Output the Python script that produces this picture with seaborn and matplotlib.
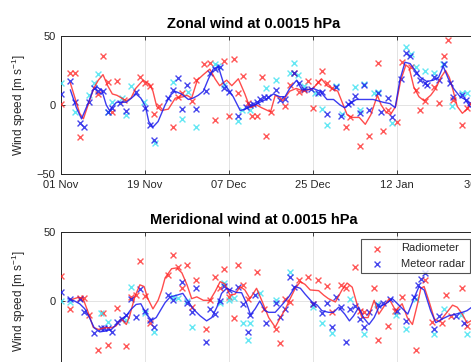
import numpy as np
import pandas as pd
import matplotlib
matplotlib.use('Agg')
import matplotlib.pyplot as plt
import matplotlib.dates as mdates
import seaborn as sns

START = pd.Timestamp('2015-11-01')

# ---- Zonal wind (top panel) ----
zonal_rad_day = [0, 2, 3, 4, 8, 9, 10, 11, 12, 13.5, 17, 18, 19, 20, 21, 24, 25, 26, 28, 29,
                 30.6, 32, 33, 35, 36, 37, 38, 39, 40, 41, 42, 43, 44, 45, 48, 49, 50, 51, 52, 53,
                 54, 55, 56, 57, 58, 61, 62, 64, 66, 68, 69, 70, 72, 73, 75, 76, 77, 78, 80, 81,
                 82, 83, 84, 86, 87]
zonal_rad = [0.5, 23.4, 23, -23, 8, 35.5, 17, -4.8, 17.6, 3.6, 20.5, 16, 13.8, -6.5, -1, -15.7, 6, 8.5, 3, 18,
             30, 30.7, -11, 32, -8, 33, 8.5, 21, 1.7, -8, -8, 20, -22.5, -4.8, -0.7, 14.5, 23.4, 9.6, 10.9, 17.6,
             -2, 17, 24.4, 15.7, 12, -15.7, -9, -30, -22.5, 30.7, -18.6, -3.6, -12, 31, 27.8, 11, -3.6, 3, 13.3, 1.7,
             35.5, 47, 3.6, -14.5, -2.4]

zonal_met_day = [0, 2, 3, 4, 5, 6, 7, 8, 9, 10, 11, 12.6, 14, 16, 18, 19, 20, 23, 24, 25,
                 26, 27, 29, 31, 32, 33, 34, 35, 36, 38, 39.6, 40.4, 41.2, 42, 42.6, 43.4, 44.4, 46, 47, 48,
                 50, 51, 52, 53.6, 55, 56, 57, 59, 60, 61.5, 62.2, 63, 64, 65, 66, 68, 68.6, 70, 71, 72.8,
                 74, 74.8, 76, 77, 78, 78.5, 80, 81, 82, 83.3, 84, 86, 86.7, 87.6]
zonal_met = [8, 17.6, 2.4, -13.3, -15.7, 2.4, 12, 10.5, 10.5, -4.8, -2.4, 1.7, -4, 9.6, -2.4, -14.5, -25, 4.8, 11, 19.3,
             -3, 14.5, -3, 10, 23, 25.8, 27.3, 12, 9.6, -8, -1.7, 0, 1, 2, 4, 6, 6, 11, 3.6, 4,
             23, 15.7, 11.4, 11.4, 8.5, 9.6, -6.5, 12.8, -8, 0.7, 2.4, 6.5, -6, 14.5, -3.6, 9, -4.8, 4.8, -9, 19,
             37.4, 35.5, 23, 18, 16, 14.5, 20.5, 18, 29.7, 15.7, 6, 7, 3.6, 1.2]

zonal_met2_day = [0, 3, 6, 7, 8, 10, 11, 13, 14, 15, 17.8, 20.2, 24, 26, 27.3, 29, 33, 33.6, 35, 38,
                  38.7, 40.5, 44, 46, 49, 50, 50.8, 52, 54.5, 56, 57, 59, 60.2, 63, 64, 65, 67, 68, 71, 74,
                  75, 76, 78, 80, 81.8, 83.8, 86, 87]
zonal_met2 = [15.7, -4.8, 7, 16, 22.4, -4.8, 2.4, 4.8, -7, 13.8, 2.4, -27.3, 17, -10.4, 9.6, -16.2, 30, 28, 14.5, -11.4,
              -3.3, -3.6, 12, 18, 23.4, 30.7, 21.7, 14, 8.5, -3, -14.5, 13.8, -6.5, 12.8, -3.6, 15.2, 8.5, 9.6, -13.3, 42,
              37, 27.8, 24.9, 23.4, 30, -0.7, 9, 8.5]

zonal_rad_fit_day = [2, 3, 4, 4.8, 6, 7, 8, 9, 10, 11, 12, 13, 14, 15, 16, 17.6, 19, 19.7, 20.5, 21.5,
                     23, 24.5, 26.2, 27, 28, 29.2, 30.5, 31.9, 33, 34, 35.5, 36.6, 38, 39.4, 40.5, 41.9, 43, 44.9, 45.9, 47,
                     47.5, 49, 50.4, 52, 53, 54, 55.8, 57, 58, 59.3, 60.6, 61.3, 62.4, 63.9, 65.2, 66.4, 67.8, 68.6, 69.6, 70.6,
                     71.7, 72.8, 73.9, 74.6, 75.6, 76.7, 77.8, 79.2, 80.3, 81.4, 82.4, 83.2, 83.9, 84.9, 86, 87, 88]
zonal_rad_fit = [16, 5, -6, -10, 2, 12, 18, 22, 14, 8, 7, 5, 3, 5, 12, 18, 15, 10, -1, -4,
                 -3, 5, 6, 7, 5, 18, 22, 26, 19, 14, 18, 14, 19, 8, -2, 0, -2, -5, 7, 5,
                 3, 10, 12, 10, 11, 12, 19, 14, 12, 10, -1, -7, -9, -9, -14, -7, 7, 0, -5, -7,
                 -1, 18, 29, 27, 13, 6, 3, 7, 12, 20, 25, 20, 12, -1, -6, -3, 2]

zonal_met_fit_day = [2, 3.3, 4.4, 5.9, 6.9, 7.8, 8.8, 9.7, 10.4, 11.1, 11.9, 13, 14, 15.1, 16.1, 17.1, 18.1, 18.8, 19.7, 20.8,
                     22.3, 23.4, 24.4, 25.8, 27.3, 28.3, 29.4, 30.5, 31.6, 32.6, 33.7, 34.8, 35.9, 36.9, 38.4, 39.5, 40.5, 41.6, 42.6, 43.9,
                     45.5, 46.9, 48, 49, 50.5, 51.6, 52.6, 54, 55.5, 57, 58.4, 59.8, 60.8, 61.9, 63.3, 64.7, 66.9, 69, 70.5, 71.6,
                     72.6, 73.7, 74.8, 75.9, 77, 78.4, 79.8, 80.9, 81.9, 83, 84.1, 85.5, 86.6, 87.6, 88.5]
zonal_met_fit = [11, -2, -10, 2, 11, 13, 10, 0, -4, -1, 2, 2, 2, 5, 8, 5, -1, -12, -16, -12,
                 0, 7, 10, 8, 4, 5, 7, 10, 19, 26, 28, 16, 11, 6, -4, -3, -1, 0, 2, 4,
                 8, 6, 6, 12, 18, 11, 11, 12, 10, 4, 4, 0, -2, 1, 4, 4, 4, 2, 1, -2,
                 18, 31, 30, 25, 20, 17, 18, 20, 28, 19, 12, 6, 4, -1, -3]

# ---- Meridional wind (bottom panel) ----
merid_rad_day = [0, 2, 4, 5, 6, 8, 9, 10, 12, 14, 15, 16, 17, 18, 19, 23, 24, 25, 26, 27,
                 28, 29, 31, 32, 33, 34, 35, 36, 37, 38, 39, 40, 42, 43.5, 46, 47, 48, 49, 51, 53,
                 54, 55, 57, 58, 60, 61, 63, 64, 65, 67, 68, 70, 71.5, 73, 76, 78, 79.6, 81.7, 82.6, 83.5,
                 86, 87]
merid_rad = [18.4, -5.7, 2.5, 2.5, -10, -35.6, -9, -32, -5, -32.3, 3, 4, 29, 3.5, -15.7, 19, 33.3, 25, 9.2, 25.9,
             -4.5, 15.4, -20, 0.5, 17.4, 9.2, 22.9, 3, -12, 25.9, 11.7, 1.7, 20.9, -5.7, -20, -30.6, 1.7, -0.7, 15, 17.4,
             -2, 15.4, 11, -8.2, 11.7, 9.2, 24.9, -7, -8.2, 9.2, -28, -18, -7, 3, -35.6, 15.4, -15, -16, 4.2, -10.7,
             9.7, -18]

merid_met_day = [0, 2, 4, 5, 7, 8.6, 9.3, 10, 11, 12, 13, 14, 15, 16, 17, 18, 19, 20, 23, 24,
                 26, 27, 28, 29, 31, 32, 33, 34, 35, 36, 38, 39, 40, 40.6, 41.6, 44, 46, 47, 48, 49,
                 50, 54, 56, 57, 58, 59, 60, 61, 62, 63, 64, 65, 66, 68, 69, 70.6, 72, 74, 75.6, 76.5,
                 77.2, 78, 80, 81, 84.6, 86.4]
merid_met = [6.7, 1.7, 1.7, -8.2, -23, -19.5, -19.5, -19.5, -22.4, -15, -13, -10, 1.7, -11.4, 8.4, -7.5, -14, -19, 4.2, 0.5,
             14, -1.2, -8.2, 9.2, -30, -5.7, -9.5, 0, 11, 8, 10, -2, -22.4, -10, 4.2, -15.7, -1.5, -11.4, -5.7, 17.4,
             10.4, -2.5, -9, -1.5, -19, 3, -4, -29.4, -5.7, -3.5, -13, -19, -8, -3.2, -1.5, 1.7, -7.5, -14.4, 3, 11.7,
             16, 20.4, -20, -11, -10.7, -15.7]

merid_met2_day = [0, 2, 8.5, 10, 14, 15, 18, 20, 24, 25, 27, 28, 34, 35, 36, 37, 39, 40, 40.6, 42.6,
                  46, 49, 54, 56, 58, 62, 65, 67.8, 71.7, 74, 76, 80, 82, 85.7, 87]
merid_met2 = [0, -1, -9, -15, -14, 10.4, -9, -22.4, 3, 2, 0, -19, -1.5, 13, 0.5, 2, -15.7, -28, -15.7, 5.5,
              1, 21, -4.5, -15.7, -23, 1.7, -24, -2, -10, -20, 1.7, -24, -5.7, -10, -24]

merid_rad_fit_day = [2.2, 3.6, 4.7, 5.8, 6.9, 8, 9.4, 10.8, 11.8, 12.9, 14, 14.7, 15.8, 16.9, 17.8, 18.6, 19.7, 20.8, 21.6, 22.3,
                     23.7, 24.8, 25.9, 27, 28, 29.1, 30.5, 31.9, 33, 34.1, 35.1, 36.2, 37.3, 38.4, 39.4, 40.5, 41.9, 43, 44.5, 45.9,
                     47, 48.1, 49.1, 50.2, 51.3, 52.3, 53.4, 55.2, 56.3, 57.3, 58.8, 60.2, 61.3, 62.4, 63.4, 64.5, 65.8, 67.1, 68.1, 69.1,
                     70.3, 71.7, 73.1, 74.2, 75.3, 76.4, 77.1, 77.8, 78.9, 80, 81.1, 82.4, 83.9, 84.9, 86, 87, 88]
merid_rad_fit = [1, 2.5, 2, -8, -19, -20.6, -19.4, -19.4, -18, -13, -17, -11, 3, 11.7, 10.5, 1.7, -5.7, 0.5, 8, 16.7,
                 23.4, 24, 20.4, 11.7, 1.7, 3, 0.5, 0.5, 6.7, 14, 12.4, 4.2, 5, 10.4, 8, 1.7, 9.2, 0.5, -12, -19,
                 -12, -5.7, 1.7, 9.2, 14, 12, 8, 7.5, 4.2, 1.7, -0.7, 8, 13, 10, -2, -12, -12, 0.5, -9.5, -4.5,
                 1.7, -7, -2, -12, -17, -2, 9.2, 10.5, -0.7, -13, -15, -9.5, -3, -4.5, -9.5, -16, -14]

merid_met_fit_day = [1.5, 2.9, 4, 5.1, 6.1, 7.1, 8.3, 9.7, 10.8, 11.9, 12.9, 14, 15, 16.1, 17.1, 18.3, 19.4, 20.4, 21.5, 22.3,
                     23.4, 24.8, 26.1, 27.1, 28.3, 29.8, 31.2, 32.3, 33.4, 34.4, 35.5, 36.6, 37.6, 38.7, 39.8, 40.6, 41.6, 42.6, 43.7, 44.5,
                     45.9, 47.3, 48.8, 50.2, 51.3, 52.3, 53.8, 54.9, 55.9, 57.3, 58.4, 59.5, 60.8, 61.8, 62.7, 63.8, 64.8, 66, 67.1, 68.1,
                     69.6, 71, 72.1, 73.2, 74.3, 75.6, 76.7, 77.8, 79.2, 80.3, 81.7, 83.1, 84.6, 86, 87, 88]
merid_met_fit = [1.7, 0, -2, -5.7, -12, -19.4, -22.4, -21.6, -20.6, -17, -13, -10.7, -6, -2.5, -2, -9.5, -14, -12, -5.7, -1.2,
                 3, 4.2, 5.5, 0.5, -5.7, -10.7, -14.4, -12, -4.5, 5.5, 9.2, 7.5, 6.2, 6, -2, -10, -5.7, 0, -7, -8.2,
                 -8.2, -3, 3, 10.4, 9.2, 5, -0.7, -3, -7, -8.2, -8.2, -4.5, -9.5, -14.4, -10.7, -4.5, -12, -17, -12, -4.5,
                 -2, 1.7, -2, -5.7, -9.5, 1.7, 10.4, 8, -7, -15.7, -13, -10.7, -9.5, -8.2, -7, -4.5]

tick_days = [0, 18, 36, 54, 72, 90]
y_ticks = [-50, 0, 50]

sns.set_style('ticks')
plt.rcParams['font.family'] = ['Liberation Sans', 'DejaVu Sans']
plt.rcParams['mathtext.default'] = 'regular'

DARK = '#262626'


def to_dates(days):
    return START + pd.to_timedelta(np.array(days, dtype=float), unit='D')


def draw_panel(ax, title, rad, met2, met, rad_fit, met_fit, legend=False):
    sns.scatterplot(x=to_dates(rad[0]), y=rad[1], marker='x', color='#ff2020', s=18,
                    linewidth=1.0, alpha=0.75, ax=ax, label='Radiometer', zorder=3)
    sns.scatterplot(x=to_dates(met2[0]), y=met2[1], marker='x', color='#30e0f0', s=18,
                    linewidth=1.0, alpha=0.75, ax=ax, zorder=3)
    sns.scatterplot(x=to_dates(met[0]), y=met[1], marker='x', color='#1818e8', s=18,
                    linewidth=1.0, alpha=0.8, ax=ax, label='Meteor radar', zorder=4)
    sns.lineplot(x=to_dates(rad_fit[0]), y=rad_fit[1], color='#ff2020', lw=1.0,
                 alpha=0.8, ax=ax, zorder=5)
    sns.lineplot(x=to_dates(met_fit[0]), y=met_fit[1], color='#1a1aee', lw=1.0,
                 alpha=0.85, ax=ax, zorder=6)

    ax.set_xlim(START, START + pd.Timedelta(days=91))
    ax.set_ylim(-50, 50)
    ax.set_xticks(to_dates(tick_days))
    ax.xaxis.set_major_formatter(mdates.DateFormatter('%d %b'))
    ax.set_yticks(y_ticks)
    ax.grid(True, color='#dedede', lw=0.6)
    ax.tick_params(direction='in', length=3, width=0.6, colors=DARK, labelsize=8,
                   top=True, right=True, pad=4)
    for sp in ax.spines.values():
        sp.set_color(DARK)
        sp.set_linewidth(0.7)
    ax.set_xlabel('')
    ax.set_ylabel('Wind speed [m s$^{-1}$]', fontsize=8.5, color=DARK)
    ax.yaxis.set_label_coords(-0.078, 0.5)
    ax.set_title(title, fontsize=10.5, fontweight='bold', color='black', x=0.453, pad=5.5)

    if legend:
        handles, labels = ax.get_legend_handles_labels()
        leg = ax.legend(handles, labels, loc='upper right', fontsize=8,
                        bbox_to_anchor=(470 / 471, 1 - 239 / 362),
                        bbox_transform=ax.figure.transFigure,
                        frameon=True, fancybox=False, borderpad=0.4,
                        handletextpad=1.2, borderaxespad=0)
        leg.get_frame().set_edgecolor(DARK)
        leg.get_frame().set_linewidth(0.8)
        for t in leg.get_texts():
            t.set_color(DARK)
    else:
        if ax.get_legend() is not None:
            ax.get_legend().remove()


fig = plt.figure(figsize=(4.71, 3.62), dpi=100)
ax_w = (485.7 - 61) / 471
ax_h = 138 / 362
ax_top = fig.add_axes([61 / 471, 1 - 174 / 362, ax_w, ax_h])
ax_bot = fig.add_axes([61 / 471, 1 - 370 / 362, ax_w, ax_h])

draw_panel(ax_top, 'Zonal wind at 0.0015 hPa',
           (zonal_rad_day, zonal_rad), (zonal_met2_day, zonal_met2), (zonal_met_day, zonal_met),
           (zonal_rad_fit_day, zonal_rad_fit), (zonal_met_fit_day, zonal_met_fit))
draw_panel(ax_bot, 'Meridional wind at 0.0015 hPa',
           (merid_rad_day, merid_rad), (merid_met2_day, merid_met2), (merid_met_day, merid_met),
           (merid_rad_fit_day, merid_rad_fit), (merid_met_fit_day, merid_met_fit), legend=True)

# the lower panel's date labels and its -50 label fall below the picture's edge
ax_bot.tick_params(labelbottom=False)
ax_bot.set_yticklabels(['', '0', '50'])

fig.savefig('out.png', dpi=100)
